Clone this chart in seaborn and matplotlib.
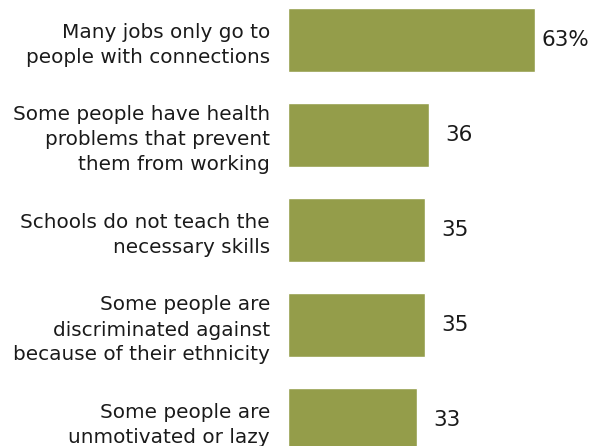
import matplotlib
matplotlib.use("Agg")
import matplotlib.pyplot as plt
import seaborn as sns
import pandas as pd

reasons = [
    "Many jobs only go to\npeople with connections",
    "Some people have health\nproblems that prevent\nthem from working",
    "Schools do not teach the\nnecessary skills",
    "Some people are\ndiscriminated against\nbecause of their ethnicity",
    "Some people are\nunmotivated or lazy",
]
shares = [63, 36, 35, 35, 33]
value_labels = ["63%", "36", "35", "35", "33"]

df = pd.DataFrame({"reason": reasons, "share": shares})

sns.set_theme(style="white")
plt.rcParams["font.family"] = ["DejaVu Sans"]

W, H, DPI = 603, 446, 100
fig = plt.figure(figsize=(W / DPI, H / DPI), dpi=DPI)
ax = fig.add_axes([288 / W, 0, 1 - 288 / W, 1])

sns.barplot(data=df, x="share", y="reason", orient="h", color="#949d4a",
            saturation=1, width=0.674, ax=ax)

px_per_unit = 3.92
ax.set_xlim(0, (W - 288) / px_per_unit)
ax.set_ylim((H - 40) / 95, -40 / 95)

for i, (v, lab) in enumerate(zip(shares, value_labels)):
    ax.text(v + 30 / px_per_unit, i, lab, va="center", ha="center",
            fontsize=15.5, color="#1a1a1a")

ax.set_xlabel("")
ax.set_ylabel("")
ax.set_xticks([])
ax.tick_params(axis="y", length=0, pad=13, labelsize=14.4, labelcolor="#1a1a1a")
for t in ax.get_yticklabels():
    t.set_horizontalalignment("right")
    t.set_multialignment("right")
    t.set_linespacing(1.4)
for s in ax.spines.values():
    s.set_visible(False)

fig.savefig("out.png", dpi=DPI)
